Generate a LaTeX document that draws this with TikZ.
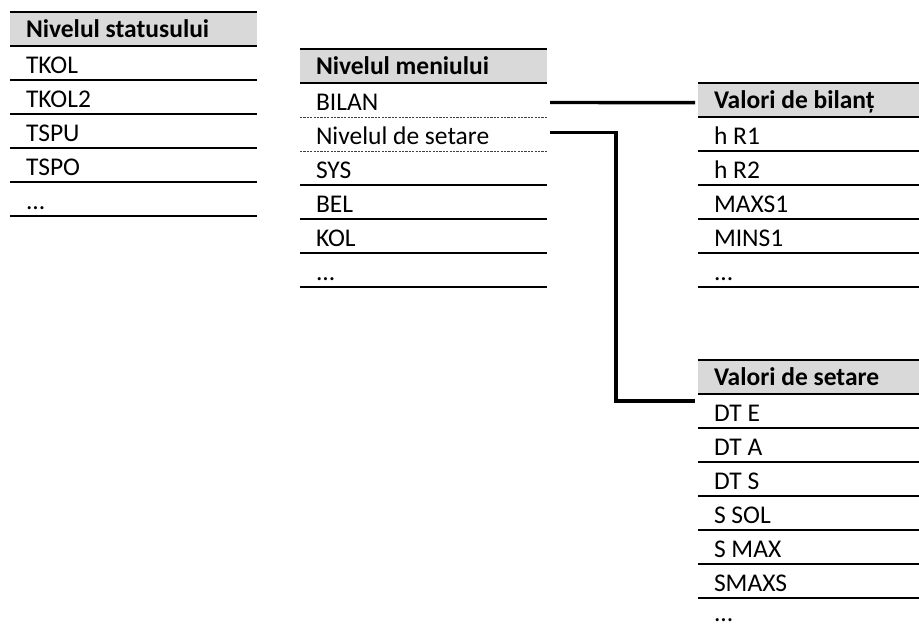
\documentclass[tikz,border=0pt]{standalone}
\usepackage{fontspec}
\setmainfont{Carlito}
\usetikzlibrary{positioning}
\begin{document}
\begin{tikzpicture}[x=1pt,y=-1pt,
  base/.style={rectangle, inner xsep=16pt, inner ysep=0pt, outer sep=0pt, align=left,
    font=\fontsize{25.5}{30}\selectfont,
    execute at begin node={\spaceskip=0pt\xspaceskip=0pt}},
  hdr/.style={base, text width=#1-32pt, fill=black!15, text height=25pt, text depth=8.7pt,
    font=\fontsize{25.5}{30}\selectfont\bfseries},
  cell/.style={base, text width=#1-32pt, text height=27.5pt, text depth=6.5pt},
  lastcell/.style={base, text width=#1-32pt, text height=23.5pt, text depth=10.5pt},
  rule/.style={line width=2.4pt},
  dotrule/.style={line width=0.9pt, black!75, dash pattern=on 2.2pt off 1.2pt},
  conn/.style={line width=3.4pt, line join=miter}]
\path[use as bounding box] (0,0) rectangle (919,626);
\clip (0,0) rectangle (919,626);

% ---------- Nivelul statusului ----------
\node[hdr=247pt, anchor=north west] (s0) at (10,12.3) {Nivelul statusului};
\node[cell=247pt, below=0pt of s0] (s1) {TKOL};
\node[cell=247pt, below=0pt of s1] (s2) {TKOL2};
\node[cell=247pt, below=0pt of s2] (s3) {TSPU};
\node[cell=247pt, below=0pt of s3] (s4) {TSPO};
\node[cell=247pt, below=0pt of s4] (s5) {...};
\draw[rule] (s0.north west) -- (s0.north east);
\foreach \n in {s0,s1,s2,s3,s4,s5} \draw[rule] (\n.south west) -- (\n.south east);

% ---------- Nivelul meniului ----------
\node[hdr=247pt, anchor=north west] (m0) at (300,49.3) {Nivelul meniului};
\node[cell=247pt, below=0pt of m0] (bilan) {BILAN};
\node[cell=247pt, below=0pt of bilan] (setare) {Nivelul de setare};
\node[cell=247pt, below=0pt of setare] (m3) {SYS};
\node[cell=247pt, below=0pt of m3] (m4) {BEL};
\node[cell=247pt, below=0pt of m4] (m5) {KOL};
\node[cell=247pt, below=0pt of m5] (m6) {...};
\draw[rule] (m0.north west) -- (m0.north east);
\draw[rule] (m0.south west) -- (m0.south east);
\draw[dotrule] (bilan.south west) -- (bilan.south east);
\draw[dotrule] (setare.south west) -- (setare.south east);
\foreach \n in {m3,m4,m5,m6} \draw[rule] (\n.south west) -- (\n.south east);

% ---------- Valori de bilant ----------
\node[hdr=240pt, anchor=north west] (vb) at (698,83.3) {Valori de bilanț};
\node[cell=240pt, below=0pt of vb] (b1) {h R1};
\node[cell=240pt, below=0pt of b1] (b2) {h R2};
\node[cell=240pt, below=0pt of b2] (b3) {MAXS1};
\node[cell=240pt, below=0pt of b3] (b4) {MINS1};
\node[cell=240pt, below=0pt of b4] (b5) {...};
\draw[rule] (vb.north west) -- (vb.north east);
\foreach \n in {vb,b1,b2,b3,b4,b5} \draw[rule] (\n.south west) -- (\n.south east);

% ---------- Valori de setare ----------
\node[hdr=240pt, anchor=north west] (vs) at (698,360) {Valori de setare};
\node[cell=240pt, below=0pt of vs] (dte) {DT E};
\node[cell=240pt, below=0pt of dte] (t2) {DT A};
\node[cell=240pt, below=0pt of t2] (t3) {DT S};
\node[cell=240pt, below=0pt of t3] (t4) {S SOL};
\node[cell=240pt, below=0pt of t4] (t5) {S MAX};
\node[cell=240pt, below=0pt of t5] (t6) {SMAXS};
\node[lastcell=240pt, below=0pt of t6] (t7) {...};
\draw[rule] (vs.north west) -- (vs.north east);
\foreach \n in {vs,dte,t2,t3,t4,t5,t6} \draw[rule] (\n.south west) -- (\n.south east);

% ---------- connectors ----------
\draw[conn] ([xshift=3pt,yshift=-2.5pt]bilan.east) -- ([xshift=-3pt,yshift=-2.5pt]vb.west);
\draw[conn] ([xshift=3pt,yshift=1.6pt]setare.east) -- ++(66,0) |- ([xshift=-3pt,yshift=9.8pt]dte.west);
\end{tikzpicture}
\end{document}
